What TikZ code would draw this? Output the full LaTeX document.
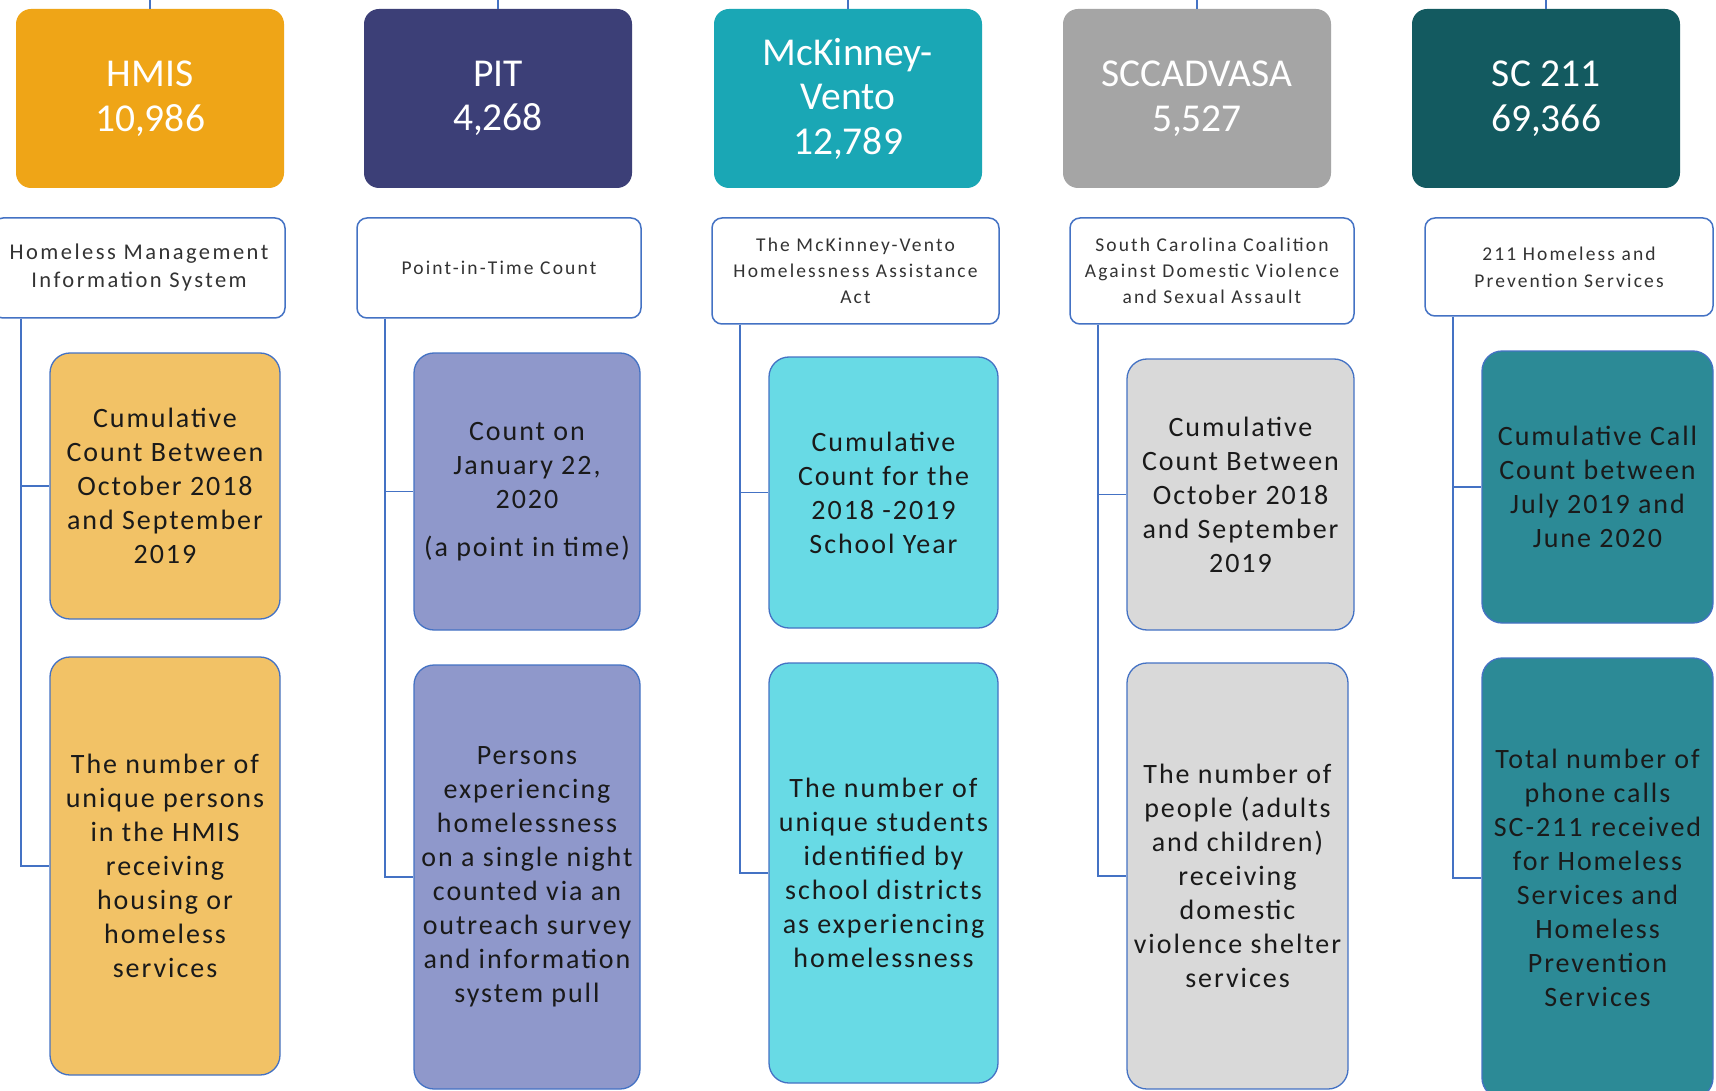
\documentclass[tikz,border=0pt]{standalone}
\usepackage{fontspec}
\setmainfont{Carlito}
\newfontfamily\boxfont[LetterSpace=7]{Carlito}
\newfontfamily\labfont[LetterSpace=11]{Carlito}
\definecolor{bordb}{HTML}{4472C4}
\definecolor{hmisA}{HTML}{EFA517}
\definecolor{hmisC}{HTML}{F2C266}
\definecolor{pitA}{HTML}{3C3F77}
\definecolor{pitC}{HTML}{8F98CB}
\definecolor{mckA}{HTML}{1AA7B5}
\definecolor{mckC}{HTML}{68DAE5}
\definecolor{sccA}{HTML}{A5A5A5}
\definecolor{sccC}{HTML}{D9D9D9}
\definecolor{scA}{HTML}{135A60}
\definecolor{scC}{HTML}{2C8A96}
\definecolor{labtext}{HTML}{333333}
\definecolor{boxtext}{HTML}{1A1A1A}
\begin{document}
\begin{tikzpicture}[x=1pt,y=-1pt,
  topbox/.style={rectangle, rounded corners=15pt, inner sep=0pt, draw=none,
    minimum width=268pt, minimum height=179pt, text=white, align=center,
    font=\fontsize{39.5}{44.5}\selectfont},
  labbox/.style={rectangle, rounded corners=10pt, inner sep=0pt, draw=bordb, line width=1.5pt,
    fill=white, text=labtext, align=center},
  infobox/.style={rectangle, rounded corners=20pt, inner sep=0pt, draw=bordb, line width=1.3pt,
    text=boxtext, align=center, font=\boxfont\fontsize{28}{34}\selectfont},
  conn/.style={draw=bordb, line width=1.8pt}]
\useasboundingbox (0,0) rectangle (1716,1091);
\fill[white] (0,0) rectangle (1716,1091);

% ---------- top boxes ----------
\node[topbox, fill=hmisA] (hA) at (150,98.5) {HMIS\\10,986};
\node[topbox, fill=pitA] (pA) at (498,98.5) {PIT\\4,268};
\node[topbox, fill=mckA] (mA) at (848,98.5) {McKinney-\\Vento\\12,789};
\node[topbox, fill=sccA] (sA) at (1197,98.5) {SCCADVASA\\5,527};
\node[topbox, fill=scA] (cA) at (1546,98.5) {SC 211\\69,366};

% ---------- label boxes ----------
\node[labbox, minimum width=292pt, minimum height=100pt,
  font=\labfont\fontsize{22.5}{28}\selectfont] (hB) at (139,268)
  {Homeless Management\\Information System};
\node[labbox, minimum width=284pt, minimum height=100pt,
  font=\labfont\fontsize{19.5}{26}\selectfont] (pB) at (499,268)
  {Point-in-Time Count};
\node[labbox, minimum width=287pt, minimum height=106pt,
  font=\labfont\fontsize{19.5}{26}\selectfont] (mB) at (855.5,271)
  {The McKinney-Vento\\Homelessness Assistance\\Act};
\node[labbox, minimum width=284pt, minimum height=106pt,
  font=\labfont\fontsize{19.5}{26}\selectfont] (sB) at (1212,271)
  {South Carolina Coalition\\Against Domestic Violence\\and Sexual Assault};
\node[labbox, minimum width=288pt, minimum height=98pt,
  font=\labfont\fontsize{19.5}{27}\selectfont] (cB) at (1569,267)
  {211 Homeless and\\Prevention Services};

% ---------- info boxes ----------
\node[infobox, fill=hmisC, minimum width=230pt, minimum height=266pt] (hC) at (165,486)
  {Cumulative\\Count Between\\October 2018\\and September\\2019};
\node[infobox, fill=hmisC, minimum width=230pt, minimum height=418pt] (hD) at (165,866)
  {The number of\\unique persons\\in the HMIS\\receiving\\housing or\\homeless\\services};

\node[infobox, fill=pitC, minimum width=226pt, minimum height=277pt] (pC) at (527,491.5)
  {Count on\\January 22,\\2020\\[14pt](a point in time)};
\node[infobox, fill=pitC, minimum width=226pt, minimum height=424pt] (pD) at (527,877)
  {Persons\\experiencing\\homelessness\\on a single night\\counted via an\\outreach survey\\and information\\system pull};

\node[infobox, fill=mckC, minimum width=229pt, minimum height=271pt] (mC) at (883.5,492.5)
  {Cumulative\\Count for the\\2018 -2019\\School Year};
\node[infobox, fill=mckC, minimum width=229pt, minimum height=420pt] (mD) at (883.5,873)
  {The number of\\unique students\\identified by\\school districts\\as experiencing\\homelessness};

\node[infobox, fill=sccC, minimum width=227pt, minimum height=271pt] (sC) at (1240.5,494.5)
  {Cumulative\\Count Between\\October 2018\\and September\\2019};
\node[infobox, fill=sccC, minimum width=221pt, minimum height=426pt] (sD) at (1237.5,876)
  {The number of\\people (adults\\and children)\\receiving\\domestic\\violence shelter\\services};

\node[infobox, fill=scC, minimum width=231pt, minimum height=272pt] (cC) at (1597.5,487)
  {Cumulative Call\\Count between\\July 2019 and\\June 2020};
\node[infobox, fill=scC, minimum width=231pt, minimum height=440pt] (cD) at (1597.5,878)
  {Total number of\\phone calls\\SC-211 received\\for Homeless\\Services and\\Homeless\\Prevention\\Services};

% ---------- connectors ----------
\foreach \n in {hA,pA,mA,sA,cA}{
  \draw[conn] (\n.north) -- ++(0,-9);
}
\foreach \b/\c/\d in {hB/hC/hD, pB/pC/pD, mB/mC/mD, sB/sC/sD, cB/cC/cD}{
  \draw[conn] ([xshift=29pt]\b.south west) |- (\c.west);
  \draw[conn] ([xshift=29pt]\b.south west) |- (\d.west);
}
\end{tikzpicture}
\end{document}
